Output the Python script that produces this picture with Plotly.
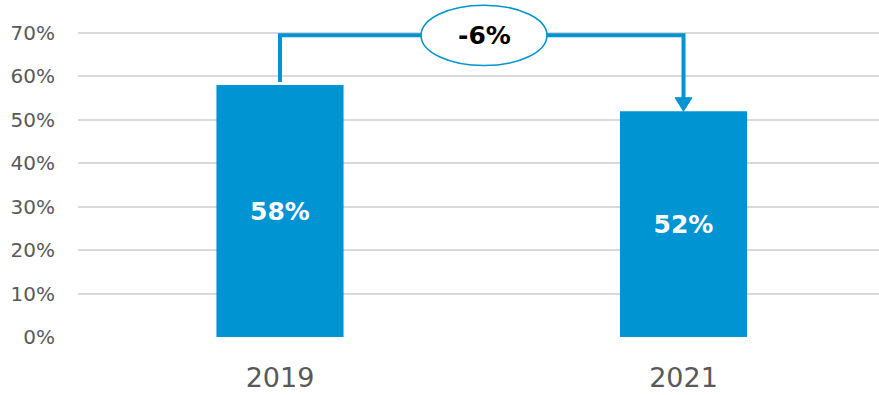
import plotly.graph_objects as go

categories = ["2019", "2021"]
values = [0.58, 0.52]
bar_labels = ["58%", "52%"]
change_label = "-6%"
y_ticks = [0, 0.1, 0.2, 0.3, 0.4, 0.5, 0.6, 0.7]
y_tick_labels = ["0%", "10%", "20%", "30%", "40%", "50%", "60%", "70%"]

BLUE = "#0094D2"
FONT = "DejaVu Sans"

fig = go.Figure()
fig.add_trace(go.Bar(
    x=categories, y=values, text=bar_labels, width=0.315,
    marker=dict(color=BLUE, line=dict(width=0)),
    textposition="inside", insidetextanchor="middle",
    textfont=dict(color="white", size=25, family=FONT, weight="bold"),
    hoverinfo="skip",
))

level = 0.695
x0, x1 = 0, 1
fig.add_shape(type="path",
              path=f"M {x0} {values[0] + 0.007} L {x0} {level} L {x1} {level} L {x1} {values[1] + 0.03}",
              xref="x", yref="y", line=dict(color=BLUE, width=4), layer="above")
# arrow head
fig.add_shape(type="path",
              path=f"M {x1 - 0.021} {values[1] + 0.031} L {x1 + 0.021} {values[1] + 0.031} L {x1} {values[1]} Z",
              xref="x", yref="y", fillcolor=BLUE, line=dict(color=BLUE, width=1), layer="above")
# ellipse
cx = 0.5056
fig.add_shape(type="circle", x0=cx - 0.156, x1=cx + 0.156, y0=0.625, y1=0.764,
              xref="x", yref="y", fillcolor="white", line=dict(color=BLUE, width=1.5), layer="above")
fig.add_annotation(x=cx, y=level, text=f"<b>{change_label}</b>", showarrow=False,
                   font=dict(color="black", size=25, family=FONT), xref="x", yref="y")

fig.update_layout(
    width=879, height=395, margin=dict(l=78, r=0, t=0, b=58),
    paper_bgcolor="white", plot_bgcolor="white", showlegend=False,
    xaxis=dict(type="category", range=[-0.5006, 1.4845], showgrid=False, zeroline=False,
               showline=False, ticks="", tickfont=dict(size=27, color="#595959", family=FONT),
               ticklabelstandoff=22),
    yaxis=dict(range=[0, 0.776], tickvals=y_ticks, ticktext=y_tick_labels,
               showgrid=True, gridcolor="#D9D9D9", gridwidth=1.5, zeroline=False,
               showline=False, ticks="", tickfont=dict(size=20, color="#595959", family=FONT),
               ticklabelstandoff=22),
)
fig.write_html("out.html")
